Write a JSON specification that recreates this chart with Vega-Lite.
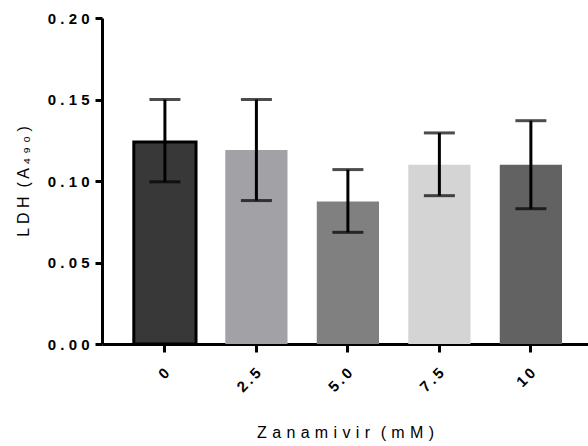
{
  "$schema": "https://vega.github.io/schema/vega-lite/v6.json",
  "width": 486,
  "height": 326,
  "autosize": {"type": "none"},
  "padding": {"left": 102, "top": 18, "right": 0, "bottom": 102},
  "config": {"view": {"stroke": null}, "font": "Liberation Sans"},
  "data": {
    "values": [
      {"dose": "0", "mean": 0.124, "lo": 0.0995, "hi": 0.150},
      {"dose": "2.5", "mean": 0.119, "lo": 0.088, "hi": 0.150},
      {"dose": "5.0", "mean": 0.0875, "lo": 0.0685, "hi": 0.107},
      {"dose": "7.5", "mean": 0.110, "lo": 0.091, "hi": 0.1295},
      {"dose": "10", "mean": 0.110, "lo": 0.083, "hi": 0.137}
    ]
  },
  "encoding": {
    "x": {
      "field": "dose",
      "type": "nominal",
      "sort": null,
      "scale": {"paddingInner": 0.32, "paddingOuter": 0.316, "align": 0.55},
      "axis": {
        "title": "Z\u2004a\u2004n\u2004a\u2004m\u2004i\u2004v\u2004i\u2004r\u2004\u2004(\u2004m\u2004M\u2004)",
        "titleFontSize": 16,
        "titleFontWeight": "normal",
        "titleColor": "black",
        "titlePadding": 30,
        "labelAngle": -45,
        "labelAlign": "right",
        "labelBaseline": "middle",
        "labelFontSize": 15,
        "labelFontWeight": "bold",
        "labelColor": "black",
        "labelPadding": 18,
        "labelOffset": 2,
        "labelExpr": "join(split(datum.label,''),'\u2009')",
        "domainColor": "black",
        "domainWidth": 3,
        "tickColor": "black",
        "tickWidth": 3,
        "tickSize": 8
      }
    }
  },
  "layer": [
    {
      "mark": {"type": "bar", "strokeWidth": 3},
      "encoding": {
        "y": {
          "field": "mean",
          "type": "quantitative",
          "scale": {"domain": [0, 0.2]},
          "axis": {
            "values": [0, 0.05, 0.1, 0.15, 0.2],
            "labelExpr": "join(split(format(datum.value,'.2f'),''),' ')",
            "labelFontSize": 15,
            "labelFontWeight": "bold",
            "labelColor": "black",
            "labelPadding": 6,
            "domainColor": "black",
            "domainWidth": 3,
            "tickColor": "black",
            "tickWidth": 3,
            "tickSize": 7,
            "grid": false,
            "title": "L D H \u00a0( A ₄ ₉ ₀ )",
            "titleFontSize": 16,
            "titleFontWeight": "normal",
            "titleColor": "black",
            "titlePadding": 16
          }
        },
        "fill": {
          "field": "dose",
          "type": "nominal",
          "scale": {
            "domain": ["0", "2.5", "5.0", "7.5", "10"],
            "range": ["#383838", "#a2a2a6", "#808080", "#d4d4d4", "#626262"]
          },
          "legend": null
        },
        "stroke": {
          "condition": {"test": "datum.dose === '0'", "value": "black"},
          "value": null
        }
      }
    },
    {
      "mark": {"type": "rule", "color": "black", "strokeWidth": 3},
      "encoding": {
        "y": {"field": "lo", "type": "quantitative"},
        "y2": {"field": "hi"}
      }
    },
    {
      "mark": {"type": "tick", "color": "black", "thickness": 3, "size": 31, "orient": "horizontal"},
      "encoding": {
        "y": {"field": "lo", "type": "quantitative"}
      }
    },
    {
      "mark": {"type": "tick", "color": "black", "thickness": 3, "size": 31, "orient": "horizontal"},
      "encoding": {
        "y": {"field": "hi", "type": "quantitative"}
      }
    }
  ]
}
